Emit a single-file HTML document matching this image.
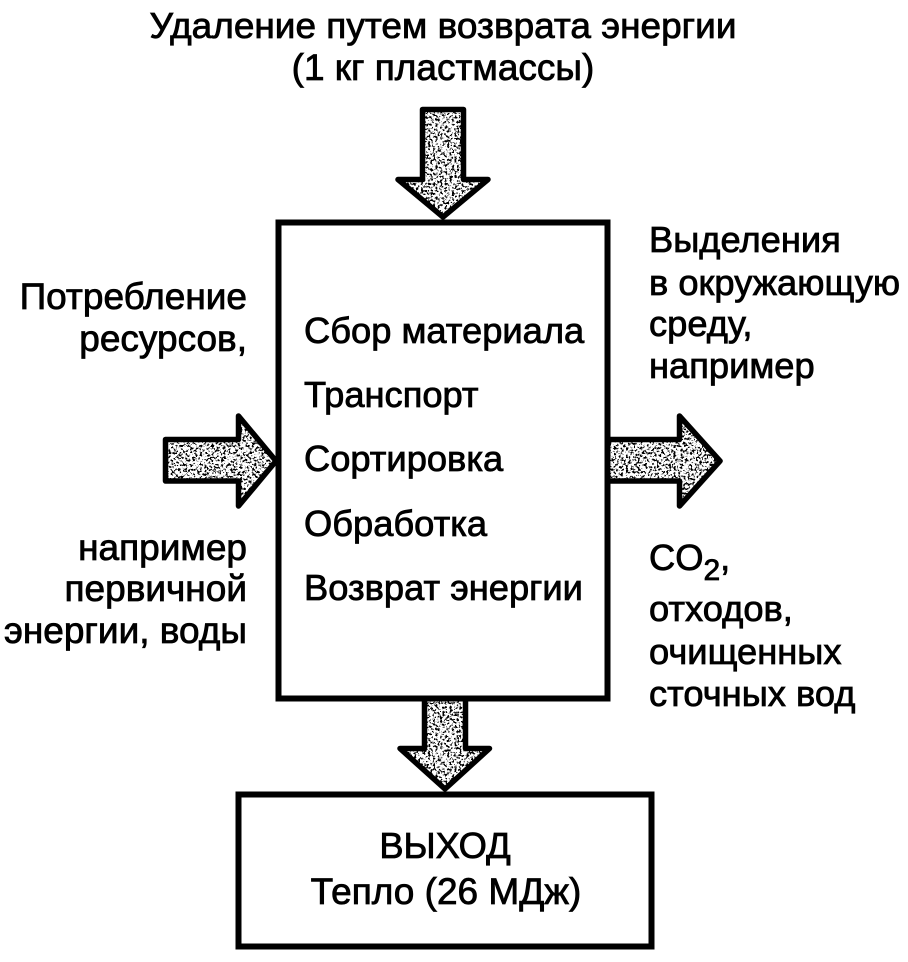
<!DOCTYPE html>
<html><head><meta charset="utf-8"><style>
html,body{margin:0;padding:0;background:#fff;width:908px;height:962px;overflow:hidden}
svg{display:block}
text{font-family:"Liberation Sans",sans-serif;font-size:36.3px;fill:#000;stroke:#000;stroke-width:.8px}
.l{font-size:37px}
</style></head><body>
<svg width="908" height="962" viewBox="0 0 908 962" xmlns="http://www.w3.org/2000/svg">
<defs>
<filter id="n" x="0" y="0" width="100%" height="100%">
<feTurbulence type="fractalNoise" baseFrequency="0.42" numOctaves="3" seed="5" result="t"/>
<feColorMatrix in="t" type="matrix" values="0 0 0 0 0 0 0 0 0 0 0 0 0 0 0 2.2 2.2 0 0 -2.05" result="a"/>
<feComponentTransfer in="a" result="b"><feFuncA type="linear" slope="5" intercept="-1.1"/></feComponentTransfer>
<feFlood flood-color="#fff" result="w"/>
<feMerge><feMergeNode in="w"/><feMergeNode in="b"/></feMerge>
</filter>
<clipPath id="c1"><polygon points="422,109 464,109 464,179 488,179 443,217 398,179 422,179"/></clipPath>
<clipPath id="c2"><polygon points="165,439 238,439 238,416 275,461 238,506 238,481 165,481"/></clipPath>
<clipPath id="c3"><polygon points="608,439 679,439 679,416 720,461 679,506 679,481 608,481"/></clipPath>
<clipPath id="c4"><polygon points="424,700 466,700 466,748 489,748 445,788 400,748 424,748"/></clipPath>
</defs>
<g clip-path="url(#c1)"><rect x="390" y="100" width="110" height="125" filter="url(#n)"/></g>
<g clip-path="url(#c2)"><rect x="160" y="410" width="122" height="105" filter="url(#n)"/></g>
<g clip-path="url(#c3)"><rect x="604" y="410" width="122" height="105" filter="url(#n)"/></g>
<g clip-path="url(#c4)"><rect x="394" y="695" width="104" height="98" filter="url(#n)"/></g>
<g fill="none" stroke="#000" stroke-width="5.5" stroke-linejoin="round">
<polygon points="422.5,109.5 463.5,109.5 463.5,179.5 488,179.5 443,217 398,179.5 422.5,179.5"/>
<polygon points="165.5,439.5 238.5,439.5 238.5,416 276,461 238.5,506 238.5,481 165.5,481"/>
<polyline points="608,439.5 679.5,439.5 679.5,416 720,461 679.5,506 679.5,481 608,481"/>
<polyline points="424.5,700 424.5,748.5 400,748.5 445,789 489.5,748.5 465.5,748.5 465.5,700"/>
</g>
<rect x="278.5" y="222.5" width="329" height="476" fill="none" stroke="#000" stroke-width="6"/>
<rect x="238.5" y="794.5" width="413" height="152" fill="none" stroke="#000" stroke-width="6"/>

<text x="443" y="38" text-anchor="middle" textLength="587" lengthAdjust="spacingAndGlyphs">Удаление путем возврата энергии</text>
<text class="l" x="443" y="80" text-anchor="middle">(1 кг пластмассы)</text>

<text class="l" x="247" y="309" text-anchor="end">Потребление</text>
<text class="l" x="247" y="351" text-anchor="end">ресурсов,</text>
<text class="l" x="247" y="560" text-anchor="end">например</text>
<text class="l" x="247" y="601" text-anchor="end">первичной</text>
<text class="l" x="247" y="643" text-anchor="end">энергии, воды</text>

<text x="304" y="343">Сбор материала</text>
<text x="304" y="407">Транспорт</text>
<text x="304" y="471">Сортировка</text>
<text x="304" y="536">Обработка</text>
<text x="304" y="600">Возврат энергии</text>

<text x="649" y="252">Выделения</text>
<text x="649" y="295">в окружающую</text>
<text x="649" y="336">среду,</text>
<text x="649" y="378">например</text>
<text x="649" y="570">CO<tspan font-size="30" dy="10">2</tspan><tspan dy="-10">,</tspan></text>
<text x="649" y="621">отходов,</text>
<text x="649" y="664">очищенных</text>
<text x="649" y="706">сточных вод</text>

<text x="445" y="858" text-anchor="middle">ВЫХОД</text>
<text class="l" x="446" y="904" text-anchor="middle">Тепло (26 МДж)</text>
</svg>
</body></html>
